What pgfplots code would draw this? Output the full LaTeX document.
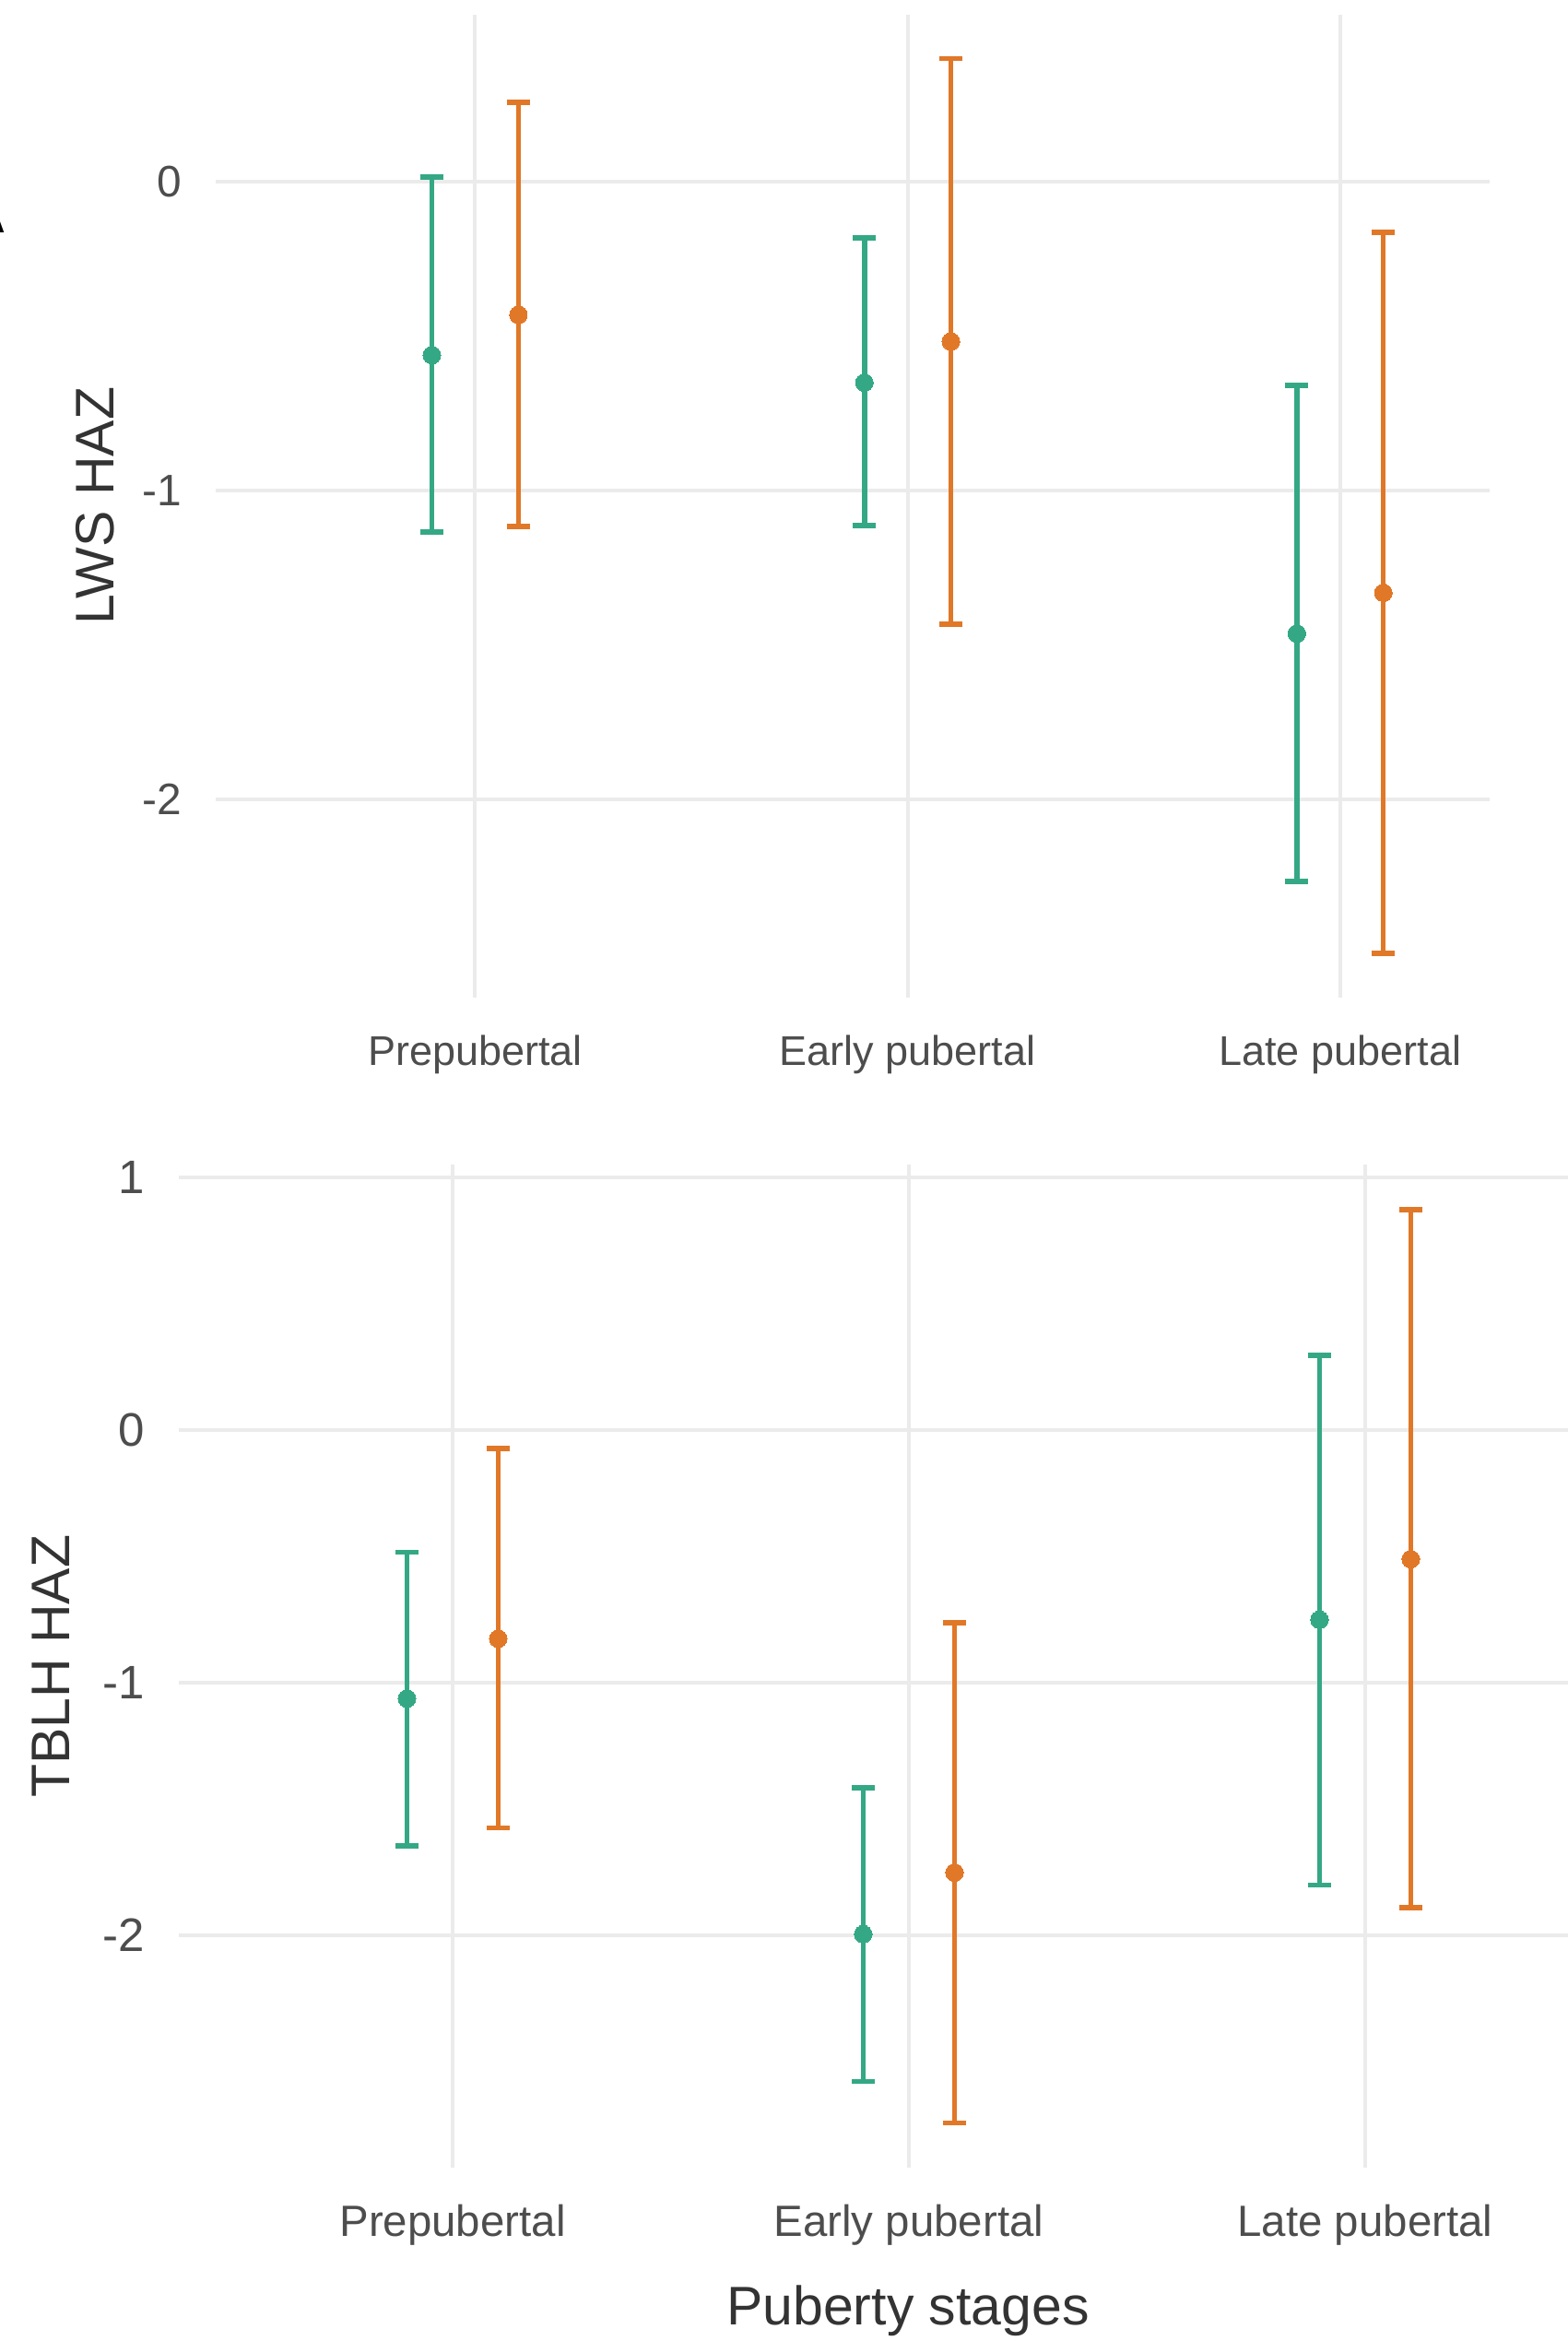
\documentclass[border=0pt]{standalone}
\usepackage{fontspec}
\setmainfont{Liberation Sans}
\usepackage{pgfplots}
\usepackage{pgfplotstable}
\pgfplotsset{compat=1.18}
\definecolor{cgreen}{RGB}{52,168,132}
\definecolor{corange}{RGB}{224,120,40}
\definecolor{cgrid}{RGB}{235,235,235}
\definecolor{ctick}{RGB}{77,77,77}
\definecolor{ctitle}{RGB}{51,51,51}

% top panel (LWS HAZ)
\pgfplotstableread{
x y ep em
0.9 -0.562 0.576 0.573
1.9 -0.651 0.468 0.463
2.9 -1.463 0.803 0.802
}\topgreen
\pgfplotstableread{
x y ep em
1.1 -0.432 0.688 0.684
2.1 -0.518 0.915 0.914
3.1 -1.331 1.167 1.167
}\toporange
% bottom panel (TBLH HAZ)
\pgfplotstableread{
x y ep em
0.9 -1.063 0.580 0.583
1.9 -1.996 0.580 0.583
2.9 -0.751 1.047 1.051
}\botgreen
\pgfplotstableread{
x y ep em
1.1 -0.826 0.754 0.749
2.1 -1.752 0.988 0.992
3.1 -0.511 1.384 1.379
}\botorange

\pgfplotsset{
  panel/.style={
    scale only axis,
    axis line style={draw=none},
    tick style={draw=none},
    major tick length=0pt,
    xmajorgrids, ymajorgrids,
    grid style={color=cgrid, line width=1bp},
    xtick={1,2,3},
    xticklabels={Prepubertal,Early pubertal,Late pubertal},
    yticklabel style={inner sep=0pt, anchor=east, xshift=-9bp, text=ctick},
    xticklabel style={inner sep=0pt, anchor=north, yshift=-10bp, text=ctick},
    ylabel style={anchor=base, inner sep=0pt, text=ctitle,
                  font=\fontsize{14.8}{16}\selectfont},
  },
  ebar/.style={
    only marks, mark=*, mark size=2.4bp,
    color=#1, mark options={fill=#1, draw=#1, line width=0pt},
    error bars/.cd, y dir=both, y explicit,
    error mark=|,
    error bar style={line width=1.4bp, color=#1},
    error mark options={mark size=3.1bp, line width=1.4bp, color=#1},
  },
}

\begin{document}
\begin{tikzpicture}
\useasboundingbox (0,0) rectangle (425.25bp,-634.75bp);
\clip (0,0) rectangle (425.25bp,-634.75bp);

\node[anchor=base east, inner sep=0pt, font=\bfseries\fontsize{12}{14}\selectfont] at (1.8bp,-63bp) {A};

\begin{axis}[panel,
  at={(58.5bp,-3.925bp)}, anchor=north west,
  width=345.4bp, height=266.5bp,
  xmin=0.40, xmax=3.345, ymin=-2.64, ymax=0.54,
  ytick={-2,-1,0}, yticklabels={-2,-1,0},
  yticklabel style={font=\fontsize{12}{14}\selectfont},
  xticklabel style={font=\fontsize{11.3}{13}\selectfont},
  ylabel={LWS HAZ},
  ylabel style={at={(axis description cs:-0.0803,0.5)}},
]
\addplot[ebar=cgreen] table[x=x, y=y, y error plus=ep, y error minus=em] {\topgreen};
\addplot[ebar=corange] table[x=x, y=y, y error plus=ep, y error minus=em] {\toporange};
\end{axis}

\begin{axis}[panel,
  at={(48.5bp,-315.85bp)}, anchor=north west,
  width=376.8bp, height=271.85bp,
  xmin=0.40, xmax=3.445, ymin=-2.92, ymax=1.05,
  ytick={-2,-1,0,1}, yticklabels={-2,-1,0,1},
  yticklabel style={font=\fontsize{12.8}{14}\selectfont},
  xticklabel style={font=\fontsize{11.9}{13}\selectfont},
  ylabel={TBLH HAZ},
  ylabel style={at={(axis description cs:-0.0783,0.5)}},
  xlabel={Puberty stages},
  xlabel style={at={(axis description cs:0.5248,0)}, anchor=north, inner sep=0pt,
                yshift=-31.8bp, text=ctitle, font=\fontsize{14.8}{16}\selectfont},
]
\addplot[ebar=cgreen] table[x=x, y=y, y error plus=ep, y error minus=em] {\botgreen};
\addplot[ebar=corange] table[x=x, y=y, y error plus=ep, y error minus=em] {\botorange};
\end{axis}
\end{tikzpicture}
\end{document}
